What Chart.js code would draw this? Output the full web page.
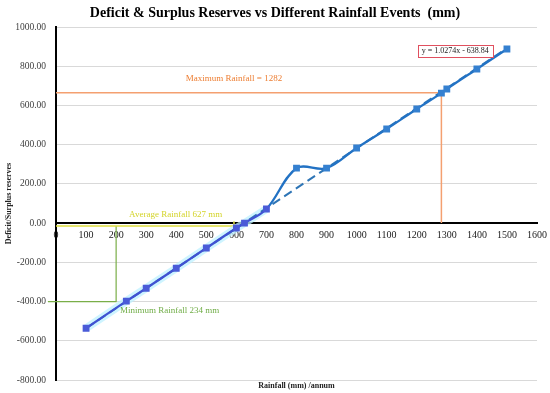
<!DOCTYPE html>
<html>
<head>
<meta charset="utf-8">
<script src="https://cdn.jsdelivr.net/npm/chart.js@4/dist/chart.umd.min.js"></script>
<style>
  html,body{margin:0;padding:0;background:#fff;}
  #wrap{width:550px;height:393px;position:relative;}
</style>
</head>
<body>
<div id="wrap"><canvas id="c" width="550" height="393"></canvas></div>
<script>
// ---- data ----
const rainfall = [100, 234, 300, 400, 500, 600, 627, 700, 800, 900, 1000, 1100, 1200, 1282, 1300, 1400, 1500];
const reserves = [-536, -398, -332, -230, -127, -25, 0, 72, 280, 280, 383, 480, 582, 663, 684, 786, 888];
const trendX = [100, 1500];
const trendY = [-536, 892];
const maxLineX = [0, 1282, 1282];
const maxLineY = [665, 665, 0];
const avgLineX = [0, 592, 592];
const avgLineY = [-15, -15, 10];
const minLineX = [-27, 200, 200];
const minLineY = [-400, -400, -15];
const yTickValues = [-800, -600, -400, -200, 0, 200, 400, 600, 800, 1000];
const xTickValues = [0, 100, 200, 300, 400, 500, 600, 700, 800, 900, 1000, 1100, 1200, 1300, 1400, 1500, 1600];

const pts = (xs, ys) => xs.map((x, i) => ({x, y: ys[i]}));
const mainPts = pts(rainfall, reserves);
const lowerPts = mainPts.filter(p => p.x <= 700);

const SERIF = '"Liberation Serif", "Times New Roman", serif';

const notes = [
  {text: 'Maximum Rainfall = 1282', x: 592, y: 735, color: '#ED7D31', size: 9},
  {text: 'Average Rainfall 627 mm', x: 398, y: 42, color: '#D4D42A', size: 9},
  {text: 'Minimum Rainfall 234 mm', x: 378, y: -444, color: '#70AD47', size: 9},
];
const eqNote = {text: 'y = 1.0274x - 638.84', x: 1328, y: 880};

const textPlugin = {
  id: 'texts',
  afterDatasetsDraw(chart) {
    const ctx = chart.ctx, xs = chart.scales.x, ys = chart.scales.y, a = chart.chartArea;
    ctx.save();
    ctx.textAlign = 'center';
    ctx.textBaseline = 'middle';
    // title
    ctx.fillStyle = '#000';
    ctx.font = 'bold 14px ' + SERIF;
    ctx.fillText('Deficit & Surplus Reserves vs Different Rainfall Events  (mm)', 275, 13);
    // x-axis title
    ctx.font = 'bold 8px ' + SERIF;
    ctx.fillStyle = '#222';
    ctx.fillText('Rainfall (mm) /annum', (a.left + a.right) / 2, 386);
    // notes
    notes.forEach(n => {
      ctx.font = n.size + 'px ' + SERIF;
      ctx.fillStyle = n.color;
      ctx.fillText(n.text, xs.getPixelForValue(n.x), ys.getPixelForValue(n.y));
    });
    // equation box
    ctx.font = '8px ' + SERIF;
    const ex = xs.getPixelForValue(eqNote.x), ey = ys.getPixelForValue(eqNote.y);
    const w = ctx.measureText(eqNote.text).width + 8, h = 12;
    ctx.fillStyle = '#fff';
    ctx.fillRect(ex - w / 2, ey - h / 2, w, h);
    ctx.strokeStyle = '#E0505F';
    ctx.lineWidth = 1;
    ctx.strokeRect(Math.round(ex - w / 2) + 0.5, Math.round(ey - h / 2) + 0.5, Math.round(w), h);
    ctx.fillStyle = '#222';
    ctx.fillText(eqNote.text, ex, ey + 0.5);
    ctx.restore();
  }
};

new Chart(document.getElementById('c'), {
  type: 'scatter',
  data: {
    datasets: [
      {label: 'max', data: pts(maxLineX, maxLineY), showLine: true, borderColor: '#F4A070', borderWidth: 1.5, pointRadius: 0, tension: 0, clip: false, order: 5},
      {label: 'avg', data: pts(avgLineX, avgLineY), showLine: true, borderColor: '#E0E040', borderWidth: 1.5, pointRadius: 0, tension: 0, clip: false, order: 5},
      {label: 'min', data: pts(minLineX, minLineY), showLine: true, borderColor: '#7AAE48', borderWidth: 1.2, pointRadius: 0, tension: 0, clip: false, order: 5},
      {label: 'glow', data: lowerPts, showLine: true, borderColor: 'rgba(190,240,255,0.75)', borderWidth: 8, pointRadius: 0, tension: 0, order: 4},
      {label: 'trend', data: pts(trendX, trendY), showLine: true, borderColor: '#2E75B6', borderWidth: 2, borderDash: [9, 5], pointRadius: 0, tension: 0, order: 2},
      {label: 'reserves', data: mainPts, showLine: true, borderWidth: 2.3, tension: 0.35,
        borderColor: '#2E75C6',
        segment: {borderColor: c => c.p0.parsed.x < 700 ? '#3F52D2' : '#2272C4'},
        pointStyle: 'rect', pointRadius: 3.2,
        pointBackgroundColor: mainPts.map(p => p.x <= 700 ? '#4A5BD8' : '#3580D0'),
        pointBorderColor: mainPts.map(p => p.x <= 700 ? '#4A5BD8' : '#3580D0'),
        order: 1}
    ]
  },
  options: {
    responsive: false,
    animation: false,
    layout: {padding: {top: 27, bottom: 13, left: 0, right: 13}},
    plugins: {legend: {display: false}, tooltip: {enabled: false}, title: {display: false}},
    scales: {
      x: {
        type: 'linear', min: 0, max: 1600,
        position: {y: 0},
        afterBuildTicks: s => { s.ticks = xTickValues.map(v => ({value: v})); },
        afterFit: s => { s.paddingLeft = 0; s.paddingRight = 0; },
        ticks: {font: {family: SERIF, size: 10}, color: '#222', padding: 6, maxRotation: 0, autoSkip: false, callback: v => String(v)},
        grid: {display: false, drawTicks: false},
        border: {display: true, color: '#000', width: 2}
      },
      y: {
        type: 'linear', min: -800, max: 1000,
        afterBuildTicks: s => { s.ticks = yTickValues.map(v => ({value: v})); },
        afterFit: s => { s.width = 56; s.paddingTop = 0; s.paddingBottom = 0; },
        ticks: {font: {family: SERIF, size: 9.5}, color: '#404040', padding: 10, callback: v => v.toFixed(2)},
        grid: {color: '#D9D9D9', lineWidth: 1, drawTicks: false},
        border: {display: true, color: '#000', width: 2},
        title: {display: true, text: 'Deficit/Surplus reserves', font: {family: SERIF, size: 8, weight: 'bold'}, color: '#222', padding: {top: 4, bottom: 0}}
      }
    }
  },
  plugins: [textPlugin]
});
</script>
</body>
</html>
